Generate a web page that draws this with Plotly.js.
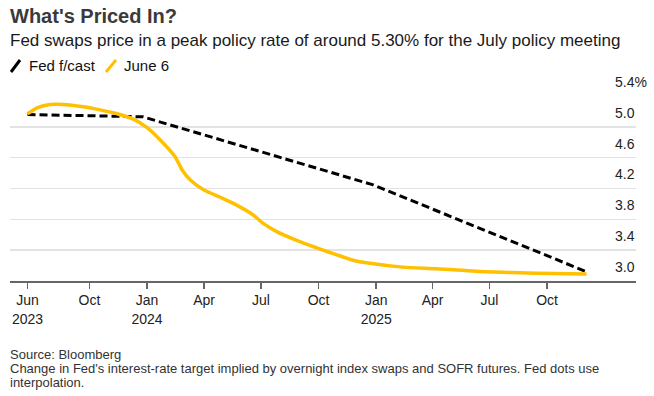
<!DOCTYPE html>
<html>
<head>
<meta charset="utf-8">
<script src="https://cdn.plot.ly/plotly-3.0.1.min.js"></script>
<style>html,body{margin:0;padding:0;background:#fff;}#chart{width:654px;height:396px;}</style>
</head>
<body>
<div id="chart"></div>
<script>
// ---- Data ----
const fedDates = ['2023-06-24', '2023-12-25', '2024-12-26', '2025-12-03'];
const fedValues = [5.16, 5.13, 4.25, 3.12];

const juneDates = ['2023-06-24','2023-07-10','2023-07-30','2023-08-20','2023-09-21','2023-10-18',
  '2023-11-14','2023-12-10','2024-01-01','2024-01-22','2024-02-15','2024-02-26','2024-03-10',
  '2024-04-01','2024-04-26','2024-05-17','2024-06-18','2024-07-04','2024-07-26','2024-09-01',
  '2024-09-28','2024-10-19','2024-10-30','2024-11-25','2024-12-22','2025-02-12','2025-04-08',
  '2025-06-26','2025-09-14','2025-12-03'];
const juneValues = [5.17,5.25,5.29,5.29,5.26,5.22,5.17,5.10,4.99,4.83,4.61,4.44,4.31,
  4.18,4.09,4.01,3.86,3.75,3.64,3.51,3.43,3.37,3.34,3.27,3.23,3.18,3.16,3.12,3.10,3.09];

const xTickVals = ['2023-06-24','2023-10-01','2024-01-01','2024-04-01','2024-07-01','2024-10-01',
  '2025-01-01','2025-04-01','2025-07-01','2025-10-01'];
const xTickText = ['Jun<br>2023','Oct','Jan<br>2024','Apr','Jul','Oct','Jan<br>2025','Apr','Jul','Oct'];

const yTickVals = [3.0, 3.4, 3.8, 4.2, 4.6, 5.0, 5.4];
const yTickText = ['3.0','3.4','3.8','4.2','4.6','5.0','5.4%'];

const seriesNames = ['Fed f/cast', 'June 6'];

// ---- Layout helpers ----
const W = 654, H = 396, ML = 10, MR = 18, MT = 96, MB = 115;
const PW = W - ML - MR, PH = H - MT - MB;
const px = x => (x - ML) / PW;
const py = y => (H - MB - y) / PH;

const FONT = '"Liberation Sans", Arial, Helvetica, sans-serif';
const YELLOW = '#FFC000';

const traces = [
  {x: fedDates, y: fedValues, mode: 'lines', name: seriesNames[0],
   line: {color: '#000', width: 3, dash: '8px,4px'}},
  {x: juneDates, y: juneValues, mode: 'lines', name: seriesNames[1],
   line: {color: YELLOW, width: 3.5, shape: 'spline', smoothing: 0.6}}
];

const layout = {
  width: W, height: H,
  margin: {l: ML, r: MR, t: MT, b: MB},
  paper_bgcolor: '#fff', plot_bgcolor: '#fff',
  showlegend: false,
  font: {family: FONT},
  xaxis: {
    type: 'date', range: ['2023-05-27', '2026-02-20'],
    tickvals: xTickVals, ticktext: xTickText,
    showgrid: false, zeroline: false,
    showline: true, linecolor: '#666', linewidth: 1.5,
    ticks: 'outside', ticklen: 6, tickwidth: 1.5, tickcolor: '#666',
    tickfont: {family: FONT, size: 14, color: '#222'}
  },
  yaxis: {
    side: 'right', range: [3.0, 5.4],
    tickvals: yTickVals, ticktext: yTickText,
    showgrid: true, gridcolor: '#e3e3e3', gridwidth: 1.5,
    zeroline: false, showline: false, ticks: '',
    ticklabelposition: 'outside', ticklabelstandoff: -22, ticklabelshift: -14,
    tickfont: {family: FONT, size: 14, color: '#222'}
  },
  shapes: [
    {type: 'line', xref: 'paper', yref: 'paper', x0: px(11), y0: py(72), x1: px(20), y1: py(60),
     line: {color: '#000', width: 3}},
    {type: 'line', xref: 'paper', yref: 'paper', x0: px(106), y0: py(72), x1: px(116), y1: py(60),
     line: {color: YELLOW, width: 3}}
  ],
  annotations: [
    {text: "<b>What's Priced In?</b>", x: px(8), y: py(16), font: {size: 20, color: '#3a3a3a'}},
    {text: 'Fed swaps price in a peak policy rate of around 5.30% for the July policy meeting', x: px(8), y: py(40),
     font: {size: 17, color: '#1a1a1a'}},
    {text: seriesNames[0], x: px(27), y: py(65.5), font: {size: 15, color: '#111'}},
    {text: seriesNames[1], x: px(122), y: py(65.5), font: {size: 15, color: '#111'}},
    {text: 'Source: Bloomberg', x: px(8), y: py(354), font: {size: 13, color: '#333'}},
    {text: "Change in Fed's interest-rate target implied by overnight index swaps and SOFR futures. Fed dots use",
     x: px(8), y: py(368.5), font: {size: 13, color: '#333'}},
    {text: 'interpolation.', x: px(8), y: py(382.5), font: {size: 13, color: '#333'}}
  ].map(a => Object.assign({xref: 'paper', yref: 'paper', xanchor: 'left', yanchor: 'middle',
                            showarrow: false, align: 'left'}, a))
};

Plotly.newPlot('chart', traces, layout, {displayModeBar: false, staticPlot: true});
</script>
</body>
</html>
